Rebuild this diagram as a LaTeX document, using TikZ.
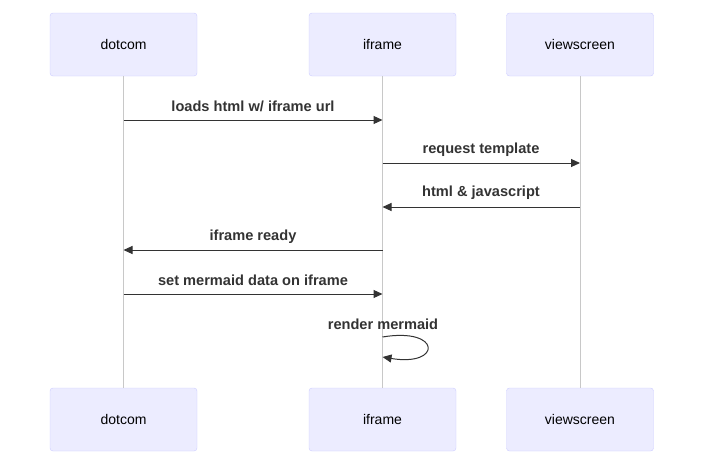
\documentclass[tikz,border=0pt]{standalone}
\usepackage{fontspec}
\setmainfont{Liberation Sans}
\usetikzlibrary{arrows.meta}
\definecolor{actorfill}{HTML}{ECECFF}
\definecolor{actorline}{HTML}{CCCCFF}
\definecolor{msgline}{HTML}{333333}
\definecolor{lifeline}{HTML}{C8C8C8}
\tikzset{
  actor/.style={draw=actorline, fill=actorfill, rounded corners=3pt, minimum width=147pt, minimum height=63pt, inner sep=0pt, font=\fontsize{14}{16}\selectfont},
  life/.style={draw=lifeline, line width=0.8pt},
  msg/.style={draw=msgline, line width=1pt, -{Triangle[length=9pt,width=8pt]}},
  msglabel/.style={text=msgline, inner sep=0pt, font=\bfseries\fontsize{14.6}{17}\selectfont}
}
\begin{document}
\begin{tikzpicture}[x=1pt,y=-1pt]
  \useasboundingbox (0,0) rectangle (712,455);

  \node[actor] (dotcomTop) at (123.5,44.5) {dotcom};
  \node[actor] (iframeTop) at (382.5,44.5) {iframe};
  \node[actor] (viewTop) at (580,44.5) {viewscreen};
  \node[actor] (dotcomBot) at (123.5,419.5) {dotcom};
  \node[actor] (iframeBot) at (382.5,419.5) {iframe};
  \node[actor] (viewBot) at (580,419.5) {viewscreen};

  \draw[life] (dotcomTop.south) -- (dotcomBot.north);
  \draw[life] (iframeTop.south) -- (iframeBot.north);
  \draw[life] (viewTop.south) -- (viewBot.north);

  \draw[msg] (dotcomTop.south |- 0,120) -- (iframeTop.south |- 0,120);
  \node[msglabel] (m1) at (253,106) {loads html w/ iframe url};

  \draw[msg] (iframeTop.south |- 0,163) -- (viewTop.south |- 0,163);
  \node[msglabel] (m2) at (481,150) {request template};

  \draw[msg] (viewTop.south |- 0,207) -- (iframeTop.south |- 0,207);
  \node[msglabel] (m3) at (481,193) {html \& javascript};

  \draw[msg] (iframeTop.south |- 0,250) -- (dotcomTop.south |- 0,250);
  \node[msglabel] (m4) at (253,237) {iframe ready};

  \draw[msg] (dotcomTop.south |- 0,294) -- (iframeTop.south |- 0,294);
  \node[msglabel] (m5) at (253,280) {set mermaid data on iframe};

  \coordinate (loopA) at (iframeTop.south |- 0,337);
  \coordinate (loopB) at (iframeTop.south |- 0,357);
  \draw[msg] (loopA) .. controls (442,327) and (442,367) .. (loopB);
  \node[msglabel] (m6) at (383,324) {render mermaid};
\end{tikzpicture}
\end{document}
